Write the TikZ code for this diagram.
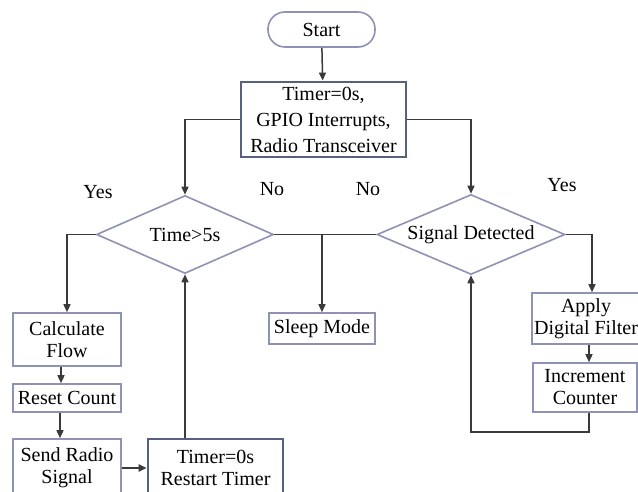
\documentclass[tikz,border=0pt]{standalone}
\usepackage{fontspec}
\setmainfont{Liberation Serif}
\usepackage{xcolor}
\usepackage{tikz}
\usetikzlibrary{shapes.geometric,arrows.meta,positioning}

\definecolor{boxline}{HTML}{8E92B4}
\definecolor{timerline}{HTML}{56617F}
\definecolor{flowline}{HTML}{3A3A3A}

\begin{document}
\begin{tikzpicture}[
			x=1pt,y=-1pt,
			every node/.style={font=\fontsize{20}{22}\selectfont, align=center, inner sep=0pt},
			stepbox/.style={draw=boxline, line width=1.6pt, fill=white},
			timerbox/.style={draw=timerline, line width=2.8pt, fill=white},
			decision/.style={diamond, draw=boxline, line width=1.6pt, fill=white, aspect=2.3},
			arrow/.style={draw=flowline, line width=1.5pt, -{Triangle[length=8pt,width=7pt]}},
			link/.style={draw=flowline, line width=1.5pt}]
			\useasboundingbox (0,0) rectangle (638,492);
			\clip (0,0) rectangle (638,492);
			\fill[white] (0,0) rectangle (638,492);
			% boxes
			\node[stepbox, rounded corners=17pt, minimum width=107pt, minimum height=35pt] (start) at (321.5,29.5) {Start};
			\node[timerbox, minimum width=165pt, minimum height=75pt, font=\fontsize{20}{26}\selectfont] (init) at (323.5,119.5) {Timer=0s,\\GPIO Interrupts,\\Radio Transceiver};
			\node[decision, minimum width=177pt, minimum height=78pt] (time) at (185,234.5) {Time>5s};
			\node[decision, minimum width=188pt, minimum height=80pt] (signal) at (471,234.5) {Signal Detected};
			\node[stepbox, minimum width=106pt, minimum height=31pt] (sleep) at (322,328.5) {Sleep Mode};
			\node[stepbox, minimum width=108pt, minimum height=53pt] (calc) at (67,339.5) {Calculate\\Flow};
			\node[stepbox, minimum width=108pt, minimum height=28pt] (reset) at (67,398) {Reset Count};
			\node[stepbox, minimum width=108pt, minimum height=58pt] (send) at (67,468) {Send Radio\\Signal};
			\node[timerbox, minimum width=135pt, minimum height=58pt] (restart) at (215.5,468) {Timer=0s\\Restart Timer};
			\node[stepbox, minimum width=108pt, minimum height=51pt] (apply) at (586,318.5) {Apply\\Digital Filter};
			\node[stepbox, minimum width=104pt, minimum height=49pt] (inc) at (585,387.5) {Increment\\Counter};
			\coordinate (loop) at (589,432);
			% labels
			\node (yesl) at (98,192) {Yes};
			\node (nol) at (272,189) {No};
			\node (nor) at (368,189) {No};
			\node (yesr) at (562,185) {Yes};
			% connectors
			\draw[arrow] (start) -- (init);
			\draw[arrow] (init.west) -| (time.north);
			\draw[arrow] (init.east) -| (signal.north);
			\draw[arrow] (time.west) -| (calc.north);
			\draw[link] (time.east) -- (signal.west);
			\draw[arrow] (time.east -| sleep.north) -- (sleep.north);
			\draw[arrow] ([xshift=-6pt]calc.south) -- ([xshift=-6pt]reset.north);
			\draw[arrow] ([xshift=-7pt]reset.south) -- ([xshift=-7pt]send.north);
			\draw[arrow, line width=2.6pt] (send.east) -- (restart.west);
			\draw[arrow] (restart.north -| time.south) -- (time.south);
			\draw[arrow] (signal.east) -| ([xshift=6pt]apply.north);
			\draw[arrow] (apply.south -| loop) -- (inc.north -| loop);
			\draw[arrow] (inc.south -| loop) -- (loop) -| (signal.south);
		\end{tikzpicture}
\end{document}
